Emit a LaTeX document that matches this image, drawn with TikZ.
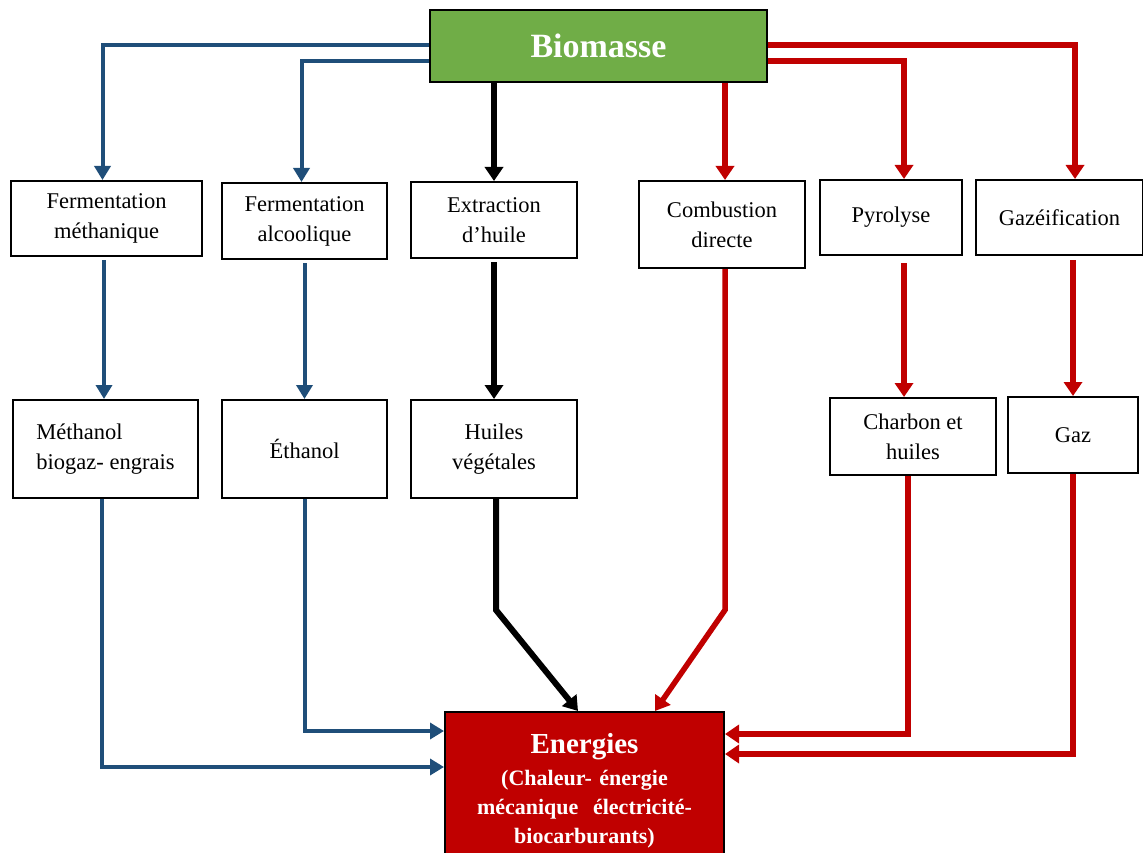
\documentclass[tikz,border=0pt]{standalone}
\usepackage{fontspec}
\setmainfont{Liberation Serif}
\usetikzlibrary{arrows.meta}

\tikzset{
  box/.style={draw=black,line width=2pt,fill=white,align=center,inner sep=0pt,
    font=\fontsize{22.5}{30}\selectfont},
  blueln/.style={draw=kBlue,line width=4pt,-{Triangle[length=14pt,width=16pt]}},
  blackln/.style={draw=black,line width=6pt,-{Triangle[length=14pt,width=18pt]}},
  redln/.style={draw=kRed,line width=5.5pt,-{Triangle[length=14pt,width=18pt]}}
}

\begin{document}
\begin{tikzpicture}[x=1pt,y=-1pt]
  \definecolor{kBlue}{HTML}{1F4E79}
  \definecolor{kRed}{HTML}{C00000}
  \definecolor{kGreen}{HTML}{70AD47}
  \useasboundingbox (0,0) rectangle (1143,853);

  % top row
  \node[box,fill=kGreen,text=white,minimum width=337pt,minimum height=72pt,
    font=\fontsize{34}{40}\selectfont\bfseries] (bio) at (598.5,46) {Biomasse};
  \node[box,minimum width=191pt,minimum height=75pt] (fm) at (106.5,218.5) {Fermentation\\méthanique};
  \node[box,minimum width=165pt,minimum height=76pt] (fa) at (304.5,221) {Fermentation\\alcoolique};
  \node[box,minimum width=166pt,minimum height=76pt] (ex) at (494,220) {Extraction\\d’huile};
  \node[box,minimum width=166pt,minimum height=87pt] (cd) at (722,224.5) {Combustion\\directe};
  \node[box,minimum width=142pt,minimum height=75pt] (py) at (891,217.5) {Pyrolyse};
  \node[box,minimum width=167pt,minimum height=75pt] (gz) at (1059.5,217.5) {Gazéification};

  % products
  \node[box,minimum width=185pt,minimum height=98pt,align=left] (me) at (105.5,449)
    {Méthanol\\biogaz- engrais};
  \node[box,minimum width=165pt,minimum height=98pt] (et) at (304.5,449) {Éthanol};
  \node[box,minimum width=166pt,minimum height=98pt] (hv) at (494,449) {Huiles\\végétales};
  \node[box,minimum width=166pt,minimum height=77pt] (ch) at (913,436.5) {Charbon et\\huiles};
  \node[box,minimum width=130pt,minimum height=76pt] (gaz) at (1073,435) {Gaz};

  % energies
  \node[box,fill=kRed,text=white,anchor=north,minimum width=279pt,minimum height=158pt,
    text width=279pt,font=\fontsize{22}{29}\selectfont\bfseries] (en) at (584.5,711)
    {{\fontsize{29}{30}\selectfont Energies}\\[3pt]
     (Chaleur- énergie\\mécanique \ électricité-\\biocarburants)};

  \coordinate (hvk) at (496,610);
  \coordinate (cdk) at (725,610);

  % biomasse to processes
  \draw[blueln] ([yshift=1pt]bio.west) -| ([xshift=-4pt]fm.north);
  \draw[blueln] ([yshift=-15pt]bio.west) -| ([xshift=-3pt]fa.north);
  \draw[blackln] (bio.south -| ex.north) -- (ex.north);
  \draw[redln] ([xshift=3pt]bio.south -| cd.north) -- ([xshift=3pt]cd.north);
  \draw[redln] ([yshift=-15pt]bio.east) -| ([xshift=13pt]py.north);
  \draw[redln] ([yshift=1pt]bio.east) -| ([xshift=2pt]gz.north -| gaz.north);

  % processes to products
  \draw[blueln] ([xshift=-2.5pt,yshift=-3pt]fm.south) -- ([xshift=-1.5pt]me.north);
  \draw[blueln] ([yshift=-3pt]fa.south) -- (et.north);
  \draw[blackln] ([yshift=-3pt]ex.south) -- (hv.north);
  \draw[redln] ([xshift=13pt,yshift=-7pt]py.south) -- ([xshift=13pt]py.south |- ch.north);
  \draw[redln] ([yshift=-4pt]gz.south -| gaz.north) -- (gaz.north);

  % products to energies
  \draw[blueln] ([xshift=-3.5pt]me.south) |- ([yshift=-56pt]en.north west);
  \draw[blueln] (et.south) |- ([yshift=-20pt]en.north west);
  \draw[blackln] ([xshift=2pt]hv.south) -- (hvk) -- ([xshift=-6.5pt]en.north);
  \draw[redln] ([xshift=3pt]cd.south) -- (cdk) -- ([xshift=70.5pt]en.north);
  \draw[redln] ([xshift=-5pt]ch.south) |- ([yshift=-23pt]en.north east);
  \draw[redln] (gaz.south) |- ([yshift=-43pt]en.north east);
\end{tikzpicture}
\end{document}
